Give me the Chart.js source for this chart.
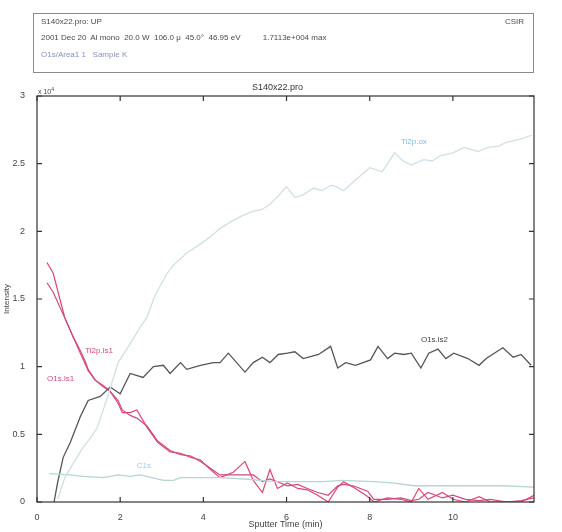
<!DOCTYPE html>
<html>
<head>
<meta charset="utf-8">
<script src="https://cdn.jsdelivr.net/npm/chart.js@4"></script>
<style>
  body { margin: 0; background: #fff; font-family: "Liberation Sans", Arial, sans-serif; }
  #wrap { position: relative; width: 562px; height: 532px; }
  #c { position: absolute; left: 0; top: 0; }
  .hdr { position: absolute; left: 33px; top: 13px; width: 499px; height: 58px; border: 1px solid #8a8a8a; }
  .t { position: absolute; font-size: 8px; color: #4a4a4a; white-space: pre; }
</style>
</head>
<body>
<div id="wrap">
  <canvas id="c" width="562" height="532"></canvas>
  <div class="hdr"></div>
  <div class="t" style="left:41px;top:17px">S140x22.pro: UP</div>
  <div class="t" style="left:505px;top:17px">CSIR</div>
  <div class="t" style="left:41px;top:33px">2001 Dec 20  Al mono  20.0 W  106.0 μ  45.0°  46.95 eV          1.7113e+004 max</div>
  <div class="t" style="left:41px;top:50px;color:#8a90c4">O1s/Area1 1   Sample K</div>
  <div class="t" style="left:252px;top:82px;font-size:9px;color:#333">S140x22.pro</div>
  <div class="t" style="left:38px;top:86px;font-size:7px;color:#444">x 10<sup style="font-size:5px">4</sup></div>
</div>
<script>
// Ti2p oxide (rising curve)
const tiOxT = [0.5,0.67,0.9,1.1,1.3,1.45,1.7,1.95,2.24,2.48,2.65,2.84,3.13,3.28,3.6,3.9,4.17,4.4,4.65,4.9,5.2,5.4,5.6,5.8,6.0,6.2,6.4,6.65,6.85,7.06,7.2,7.37,7.55,7.7,8.0,8.3,8.6,8.8,9.0,9.3,9.5,9.7,10.0,10.27,10.6,10.85,11.1,11.3,11.6,11.9];
const tiOxV = [0.02,0.18,0.3,0.4,0.48,0.55,0.78,1.03,1.17,1.29,1.37,1.53,1.69,1.75,1.84,1.9,1.96,2.02,2.07,2.11,2.15,2.16,2.2,2.26,2.33,2.25,2.27,2.32,2.3,2.34,2.33,2.3,2.35,2.39,2.47,2.44,2.58,2.52,2.49,2.53,2.52,2.56,2.58,2.62,2.59,2.62,2.63,2.66,2.68,2.71];

// O1s.ls2 (dark grey)
const o2T = [0.41,0.5,0.63,0.8,1.04,1.23,1.52,1.76,2.0,2.24,2.55,2.8,3.04,3.2,3.45,3.6,3.93,4.24,4.4,4.6,5.0,5.2,5.42,5.6,5.8,6.02,6.2,6.4,6.77,7.06,7.23,7.42,7.66,8.02,8.2,8.43,8.6,8.82,9.0,9.23,9.42,9.64,9.83,10.02,10.36,10.63,10.8,11.2,11.45,11.64,11.88];
const o2V = [0,0.15,0.33,0.44,0.63,0.75,0.78,0.85,0.8,0.95,0.92,1.0,1.01,0.95,1.03,0.98,1.01,1.03,1.03,1.1,0.96,1.03,1.07,1.03,1.09,1.1,1.11,1.06,1.09,1.15,0.99,1.03,1.01,1.05,1.15,1.06,1.1,1.09,1.1,0.99,1.1,1.13,1.06,1.1,1.06,1.01,1.06,1.14,1.07,1.09,1.01];

// pink pair
const pinkT = [0.24,0.39,0.55,0.67,0.87,1.04,1.16,1.23,1.4,1.6,1.75,1.95,2.05,2.24,2.4,2.65,2.9,3.2,3.45,3.7,3.93,4.17,4.4,4.72,5.0,5.2,5.42,5.6,5.78,6.02,6.27,6.5,6.75,7.0,7.23,7.37,7.6,7.95,8.1,8.43,8.75,9.0,9.18,9.4,9.75,10.0,10.3,10.63,10.9,11.3,11.64,11.95];
const ti1V = [1.77,1.69,1.5,1.36,1.22,1.1,1.02,0.97,0.9,0.85,0.82,0.73,0.66,0.66,0.68,0.55,0.44,0.37,0.36,0.33,0.31,0.24,0.18,0.22,0.3,0.16,0.07,0.24,0.1,0.14,0.1,0.09,0.05,0.0,0.11,0.15,0.11,0.04,0.0,0.03,0.02,0.0,0.1,0.02,0.07,0.02,0.0,0.04,0.0,0.0,0.0,0.05];
const o1V = [1.62,1.55,1.44,1.36,1.22,1.12,1.04,0.98,0.9,0.86,0.82,0.75,0.68,0.64,0.62,0.56,0.45,0.38,0.35,0.34,0.3,0.25,0.2,0.2,0.2,0.2,0.15,0.17,0.15,0.12,0.13,0.1,0.07,0.05,0.12,0.13,0.12,0.08,0.02,0.02,0.03,0.01,0.02,0.07,0.03,0.05,0.02,0.01,0.02,0.0,0.01,0.03];

// C1s
const cT = [0.3,0.8,1.1,1.6,1.95,2.24,2.48,3.04,3.28,3.45,4.17,4.4,5.0,5.7,6.5,6.9,7.3,8.1,8.6,9.06,10.0,10.5,11.2,11.95];
const cV = [0.21,0.2,0.19,0.18,0.2,0.19,0.2,0.16,0.16,0.18,0.18,0.18,0.17,0.15,0.15,0.15,0.16,0.15,0.14,0.12,0.12,0.12,0.12,0.11];

const xTicks = [0,2,4,6,8,10];
const yTicks = [0,0.5,1,1.5,2,2.5,3];

// curve labels: [text, t, value, colour]
const curveLabels = [
  ['Ti2p.ls1', 1.16, 1.12, '#d9467a'],
  ['O1s.ls1', 0.24, 0.91, '#cc4a88'],
  ['O1s.ls2', 9.23, 1.2, '#444'],
  ['Ti2p.ox', 8.75, 2.66, '#79bfe6'],
  ['C1s', 2.4, 0.27, '#9ccbe0']
];

const pts = (t, v) => t.map((x, i) => ({x: x, y: v[i]}));

const framePlugin = {
  id: 'frame',
  afterDatasetsDraw(chart) {
    const ctx = chart.ctx, a = chart.chartArea;
    const xs = chart.scales.x, ys = chart.scales.y;
    ctx.save();
    ctx.strokeStyle = '#333';
    ctx.lineWidth = 1.2;
    ctx.strokeRect(a.left, a.top, a.right - a.left, a.bottom - a.top);
    ctx.beginPath();
    xTicks.forEach(v => {
      const px = xs.getPixelForValue(v);
      ctx.moveTo(px, a.bottom); ctx.lineTo(px, a.bottom - 5);
      ctx.moveTo(px, a.top); ctx.lineTo(px, a.top + 5);
    });
    yTicks.forEach(v => {
      const py = ys.getPixelForValue(v);
      ctx.moveTo(a.left, py); ctx.lineTo(a.left + 5, py);
      ctx.moveTo(a.right, py); ctx.lineTo(a.right - 5, py);
    });
    ctx.stroke();
    ctx.font = '8px "Liberation Sans", Arial';
    ctx.textBaseline = 'middle';
    curveLabels.forEach(l => {
      ctx.fillStyle = l[3];
      ctx.fillText(l[0], xs.getPixelForValue(l[1]), ys.getPixelForValue(l[2]));
    });
    ctx.restore();
  }
};

new Chart(document.getElementById('c'), {
  type: 'line',
  data: {
    datasets: [
      { label: 'Ti2p.ox', data: pts(tiOxT, tiOxV), borderColor: '#cfe0e6', borderWidth: 1.3 },
      { label: 'C1s', data: pts(cT, cV), borderColor: '#b5d6d2', borderWidth: 1.3 },
      { label: 'O1s.ls2', data: pts(o2T, o2V), borderColor: '#555', borderWidth: 1.3 },
      { label: 'O1s.ls1', data: pts(pinkT, o1V), borderColor: '#cc4a88', borderWidth: 1.2 },
      { label: 'Ti2p.ls1', data: pts(pinkT, ti1V), borderColor: '#e0456f', borderWidth: 1.2 }
    ]
  },
  options: {
    responsive: false,
    animation: false,
    elements: { point: { radius: 0 }, line: { tension: 0 } },
    layout: { padding: { top: 96, right: 28, left: 0, bottom: 0 } },
    plugins: { legend: { display: false }, tooltip: { enabled: false } },
    scales: {
      x: {
        type: 'linear', min: 0, max: 11.95,
        afterFit: s => { s.height = 30; },
        afterBuildTicks: s => { s.ticks = xTicks.map(v => ({value: v})); },
        grid: { display: false }, border: { display: false },
        ticks: { color: '#444', font: { size: 9, family: '"Liberation Sans", Arial' }, padding: 2, maxRotation: 0,
                 callback: v => String(v) },
        title: { display: true, text: 'Sputter Time (min)', color: '#444', font: { size: 9, family: '"Liberation Sans", Arial' }, padding: { top: 0, bottom: 2 } }
      },
      y: {
        min: 0, max: 3,
        afterFit: s => { s.width = 37; },
        afterBuildTicks: s => { s.ticks = yTicks.map(v => ({value: v})); },
        grid: { display: false }, border: { display: false },
        ticks: { color: '#444', font: { size: 9, family: '"Liberation Sans", Arial' }, padding: 4,
                 callback: v => String(v) },
        title: { display: true, text: 'Intensity', color: '#444', font: { size: 8, family: '"Liberation Sans", Arial' }, padding: 2 }
      }
    }
  },
  plugins: [framePlugin]
});
</script>
</body>
</html>
